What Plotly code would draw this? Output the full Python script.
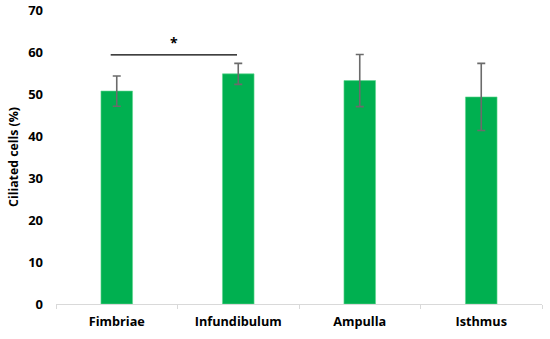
import plotly.graph_objects as go

categories = ["Fimbriae", "Infundibulum", "Ampulla", "Isthmus"]
ciliated = [50.7, 54.8, 53.2, 49.3]
error = [3.6, 2.5, 6.2, 8.0]
sig_pair = [0, 1]
sig_y = 59.3
sig_label = "*"

FONT = "'Open Sans', sans-serif"

fig = go.Figure()
fig.add_trace(go.Bar(
    x=categories, y=ciliated,
    marker=dict(color="#00b050", line=dict(color="#5fd68e", width=0.6)),
    width=0.26,
    error_y=dict(type="data", array=error, visible=True, color="#6b6b6b", thickness=1.6, width=4),
))

fig.add_shape(type="line", xref="x", yref="y",
              x0=sig_pair[0] - 0.05, x1=sig_pair[1] - 0.01, y0=sig_y, y1=sig_y,
              line=dict(color="black", width=1.3))
fig.add_annotation(x=(sig_pair[0] + sig_pair[1]) / 2 - 0.03, y=sig_y + 0.2, xref="x", yref="y",
                   text=sig_label, showarrow=False, yanchor="bottom",
                   font=dict(family=FONT, size=14, color="black", weight="bold"))

fig.update_layout(
    width=550, height=339,
    margin=dict(l=56, r=8, t=10, b=35),
    plot_bgcolor="white", paper_bgcolor="white",
    showlegend=False,
    font=dict(family=FONT, size=13, color="black"),
)
fig.update_xaxes(
    automargin=False,
    showline=True, linecolor="#d9d9d9", linewidth=1.2,
    ticks="outside", tickson="boundaries", ticklen=4, tickcolor="#d9d9d9",
    tickfont=dict(family=FONT, size=12.7, color="black", weight="bold"),
    ticklabelstandoff=6,
    showgrid=False, range=[-0.5, 3.5],
)
fig.update_yaxes(
    automargin=False,
    range=[0, 70], dtick=10, showgrid=False, zeroline=False, showline=False,
    tickfont=dict(family=FONT, size=13, color="black", weight="bold"),
    ticklabelstandoff=12,
    title=dict(text="Ciliated cells (%)", standoff=6,
               font=dict(family=FONT, size=12.3, color="black", weight="bold")),
)

fig.write_html("out.html", config={"displayModeBar": False},
               post_script="document.body.style.margin='0';")
